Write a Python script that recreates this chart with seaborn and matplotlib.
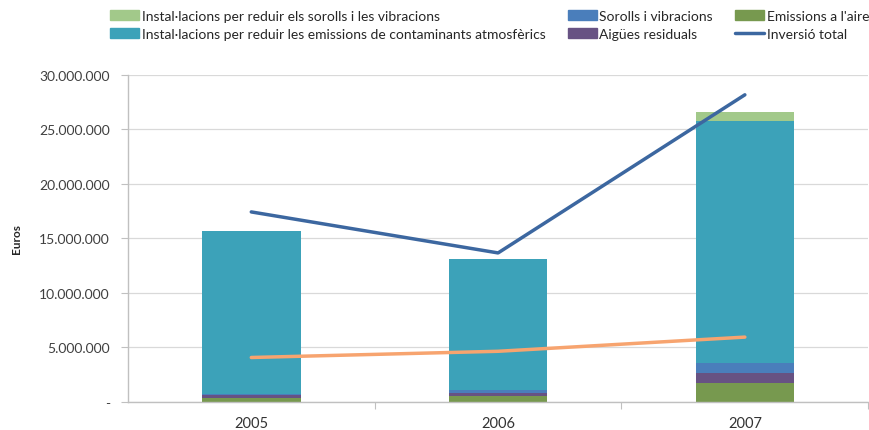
import numpy as np
import pandas as pd
import seaborn as sns
import matplotlib.pyplot as plt
from matplotlib.ticker import FuncFormatter
from matplotlib.patches import Patch
from matplotlib.lines import Line2D

anys = ['2005', '2006', '2007']
emissions_aire = [350000, 520000, 1710000]
aigues_residuals = [330000, 330000, 970000]
sorolls_vibracions = [50000, 250000, 920000]
instal_contaminants = [14960000, 12020000, 22150000]
instal_sorolls = [0, 0, 850000]
inversio_total = [17430000, 13670000, 28170000]
altra_serie = [4080000, 4650000, 5950000]

sns.set_style('white')
plt.rcParams['font.family'] = ['Lato', 'DejaVu Sans']

fig = plt.figure(figsize=(8.7, 4.31), dpi=100)
ax = fig.add_axes([0.147, 0.065, 0.851, 0.759])

capes = [
    ("Emissions a l'aire", emissions_aire, '#77994f'),
    ('Aigües residuals', aigues_residuals, '#675283'),
    ('Sorolls i vibracions', sorolls_vibracions, '#4a7ebb'),
    ('Instal·lacions per reduir les emissions de contaminants atmosfèrics', instal_contaminants, '#3ca2b9'),
    ('Instal·lacions per reduir els sorolls i les vibracions', instal_sorolls, '#a2c98a'),
]

# stacked bars: draw cumulative totals from the top layer down
acum = np.cumsum([c[1] for c in capes], axis=0)
for i in range(len(capes) - 1, -1, -1):
    df = pd.DataFrame({'any': anys, 'valor': acum[i]})
    sns.barplot(data=df, x='any', y='valor', color=capes[i][2], width=0.4,
                saturation=1, ax=ax, zorder=2, linewidth=0)

x = np.arange(len(anys))
sns.lineplot(x=x, y=altra_serie, color='#f7a46f', linewidth=2.5, ax=ax, zorder=3)
sns.lineplot(x=x, y=inversio_total, color='#3c67a0', linewidth=2.5, ax=ax, zorder=4)

ax.set_xlim(-0.5, 2.5)
ax.set_ylim(0, 30000000)
ax.set_yticks(np.arange(0, 30000001, 5000000))
ax.yaxis.set_major_formatter(FuncFormatter(
    lambda v, p: '-' if v == 0 else f'{int(v):,}'.replace(',', '.')))
ax.set_xticks(x)
ax.set_xticklabels(anys)
ax.set_xticks([0.5, 1.5, 2.5], minor=True)
ax.tick_params(axis='x', which='major', length=0, pad=10, labelsize=10.5, colors='#333333')
ax.tick_params(axis='x', which='minor', length=5, width=0.8, color='#c0c0c0', direction='out', bottom=True)
ax.tick_params(axis='y', length=5, width=0.8, color='#c0c0c0', direction='out', left=True,
               labelsize=10, labelcolor='#404040', pad=8)
ax.set_xlabel('')
ax.set_ylabel('Euros', fontsize=8.5, fontweight='bold', labelpad=12)
ax.grid(axis='y', color='#d9d9d9', linewidth=0.9, zorder=0)
ax.set_axisbelow(True)
for s in ['top', 'right']:
    ax.spines[s].set_visible(False)
for s in ['left', 'bottom']:
    ax.spines[s].set_color('#c0c0c0')
    ax.spines[s].set_linewidth(1)

h = [Patch(color='#a2c98a'), Patch(color='#3ca2b9'), Patch(color='#4a7ebb'),
     Patch(color='#675283'), Patch(color='#77994f'), Line2D([], [], color='#3c67a0', linewidth=2.5)]
labels = ['Instal·lacions per reduir els sorolls i les vibracions',
          'Instal·lacions per reduir les emissions de contaminants atmosfèrics',
          'Sorolls i vibracions', 'Aigües residuals', "Emissions a l'aire", 'Inversió total']
fig.legend(h, labels, ncol=3, loc='upper left', bbox_to_anchor=(0.126, 0.975), frameon=False,
           borderpad=0, borderaxespad=0,
           handlelength=2.1, handleheight=0.7, handletextpad=0.2,
           columnspacing=1.6, labelspacing=0.45,
           prop={'family': ['Lato', 'DejaVu Sans'], 'size': 10})

fig.savefig('out.png', dpi=100)
